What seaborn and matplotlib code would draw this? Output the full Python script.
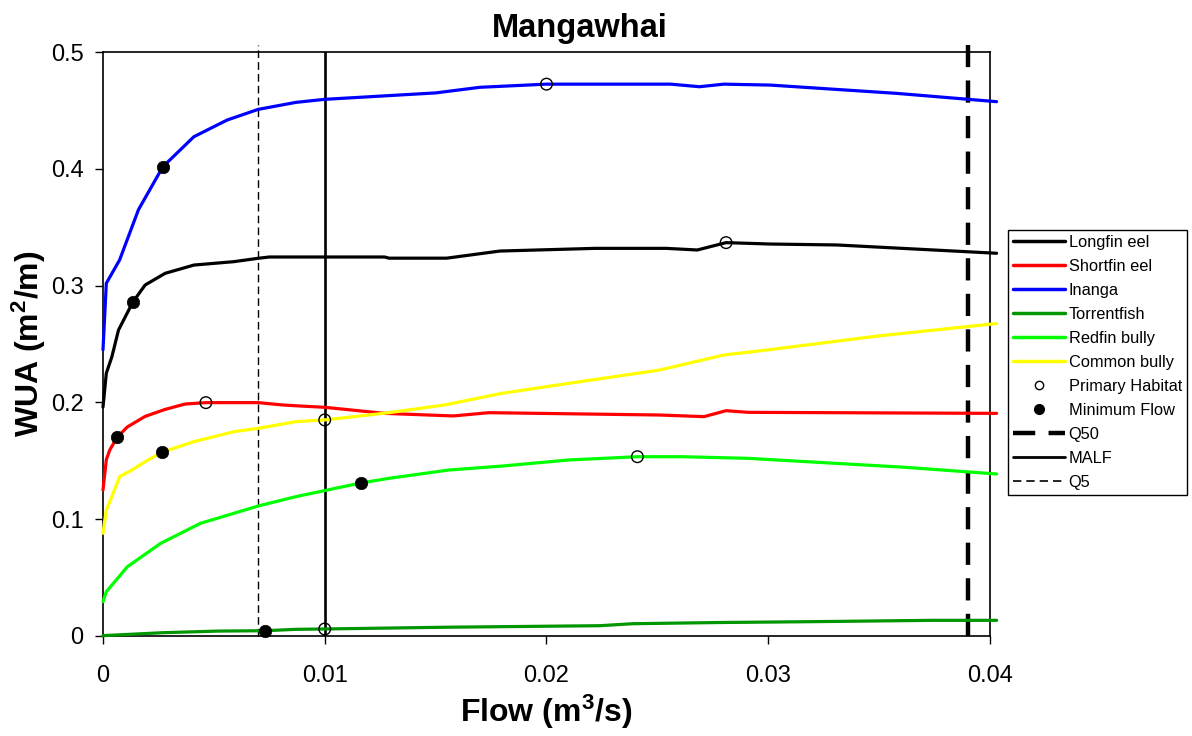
import matplotlib
matplotlib.use("Agg")
import matplotlib.pyplot as plt
from matplotlib.lines import Line2D
import numpy as np
import pandas as pd
import seaborn as sns

# ---- habitat curves: flow (m3/s) vs weighted usable area (m2/m) ----
longfin_x = [0, 0.00015, 0.0004, 0.0007, 0.00135, 0.0019, 0.0028, 0.0041, 0.0059, 0.007, 0.0075,
             0.0127, 0.0129, 0.0155, 0.0179, 0.0222, 0.0254, 0.0268, 0.0281, 0.0301, 0.0331, 0.0403]
longfin_y = [0.196, 0.225, 0.239, 0.262, 0.286, 0.3005, 0.3105, 0.3176, 0.3205, 0.3234, 0.3245,
             0.3245, 0.3235, 0.3235, 0.3296, 0.3319, 0.3319, 0.3305, 0.3368, 0.3356, 0.3348, 0.3277]

shortfin_x = [0, 0.00015, 0.0003, 0.00063, 0.0011, 0.0019, 0.0028, 0.0037, 0.00464, 0.007, 0.0081,
              0.0089, 0.01, 0.0127, 0.0158, 0.0174, 0.0251, 0.0271, 0.0281, 0.0291, 0.0403]
shortfin_y = [0.125, 0.151, 0.159, 0.170, 0.179, 0.188, 0.194, 0.1986, 0.1998, 0.1998, 0.1978,
              0.1969, 0.1958, 0.1906, 0.1884, 0.1912, 0.1892, 0.1878, 0.1929, 0.1915, 0.1906]

inanga_x = [0, 0.00015, 0.00075, 0.0016, 0.0027, 0.0041, 0.0056, 0.007, 0.0087, 0.01, 0.015, 0.017,
            0.02, 0.0256, 0.0269, 0.028, 0.0301, 0.0358, 0.0403]
inanga_y = [0.245, 0.302, 0.322, 0.365, 0.4018, 0.4275, 0.4418, 0.4509, 0.4569, 0.4595, 0.4650, 0.4698,
            0.4725, 0.4725, 0.4703, 0.4725, 0.4717, 0.4646, 0.4575]

torrent_x = [0, 0.0027, 0.0052, 0.0073, 0.0087, 0.01, 0.0155, 0.0224, 0.0239, 0.0277, 0.0322, 0.0374, 0.0403]
torrent_y = [0.0003, 0.0028, 0.0042, 0.0045, 0.0057, 0.006, 0.0075, 0.0088, 0.0105, 0.0115, 0.0123, 0.0134, 0.0134]

redfin_x = [0, 0.00015, 0.0011, 0.0026, 0.0044, 0.0059, 0.007, 0.0087, 0.01, 0.01163, 0.0129, 0.0156,
            0.018, 0.021, 0.0241, 0.0261, 0.0291, 0.0362, 0.0403]
redfin_y = [0.0294, 0.0379, 0.0593, 0.0793, 0.0965, 0.105, 0.1113, 0.1193, 0.1245, 0.131, 0.135, 0.1421,
            0.1455, 0.1507, 0.1535, 0.1535, 0.1521, 0.1444, 0.1387]

common_x = [0, 0.00015, 0.0004, 0.00075, 0.0013, 0.0019, 0.00265, 0.0041, 0.0059, 0.007, 0.0087, 0.01,
            0.0129, 0.0154, 0.018, 0.021, 0.0251, 0.028, 0.030, 0.035, 0.0403]
common_y = [0.0879, 0.1079, 0.1193, 0.1364, 0.1421, 0.1492, 0.1572, 0.1664, 0.1749, 0.1778, 0.1835, 0.185,
            0.1912, 0.1978, 0.2078, 0.2163, 0.2277, 0.2406, 0.245, 0.257, 0.2675]

species = ["Longfin eel", "Shortfin eel", "Inanga", "Torrentfish", "Redfin bully", "Common bully"]
colors = ["#000000", "#FF0000", "#0000FF", "#009600", "#00FF00", "#FFFF00"]
curves_x = [longfin_x, shortfin_x, inanga_x, torrent_x, redfin_x, common_x]
curves_y = [longfin_y, shortfin_y, inanga_y, torrent_y, redfin_y, common_y]

# ---- points of interest on each curve ----
primary_x = [0.0281, 0.00464, 0.02, 0.01, 0.0241, 0.01]
primary_y = [0.3368, 0.1998, 0.4725, 0.006, 0.1535, 0.185]
minflow_x = [0.00135, 0.00063, 0.0027, 0.0073, 0.01163, 0.00265]
minflow_y = [0.286, 0.170, 0.4018, 0.0045, 0.131, 0.1572]

# ---- reference flows ----
q5_flow = 0.007
malf_flow = 0.01
q50_flow = 0.039

sns.set_style("ticks")
plt.rcParams["font.family"] = ["Liberation Sans", "DejaVu Sans"]
plt.rcParams["text.color"] = "black"
plt.rcParams["axes.labelcolor"] = "black"
plt.rcParams["xtick.color"] = "black"
plt.rcParams["ytick.color"] = "black"
plt.rcParams["mathtext.fontset"] = "custom"
plt.rcParams["mathtext.rm"] = "Liberation Sans:bold"
plt.rcParams["mathtext.bf"] = "Liberation Sans:bold"
plt.rcParams["mathtext.it"] = "Liberation Sans:bold"
plt.rcParams["mathtext.default"] = "rm"

fig = plt.figure(figsize=(11.92, 7.36), dpi=100)
ax = fig.add_axes([0.0864, 0.1359, 0.8305 - 0.0864, 0.9293 - 0.1359])

frames = [pd.DataFrame({"flow": cx, "wua": cy, "species": name})
          for name, cx, cy in zip(species, curves_x, curves_y)]
curves = pd.concat(frames, ignore_index=True)

sns.lineplot(data=curves, x="flow", y="wua", hue="species", hue_order=species,
             palette=dict(zip(species, colors)), estimator=None, sort=False,
             linewidth=2.3, legend=False, ax=ax, zorder=3)
for line in ax.lines:
    line.set_clip_on(False)

# reference flow lines
ax.axvline(q5_flow, ymin=0, ymax=1.012, color="black", lw=1.0, dashes=(5.5, 3.0), clip_on=False, zorder=2)
ax.axvline(malf_flow, color="black", lw=1.9, zorder=2)
ax.axvline(q50_flow, ymin=0, ymax=1.012, color="black", lw=3.2, dashes=(5, 3), clip_on=False, zorder=2)

points = pd.DataFrame({"px": primary_x, "py": primary_y})
mins = pd.DataFrame({"mx": minflow_x, "my": minflow_y})
sns.scatterplot(data=points, x="px", y="py", s=70, facecolor="none", edgecolor="black",
                linewidth=1.0, ax=ax, zorder=5, clip_on=False)
sns.scatterplot(data=mins, x="mx", y="my", s=80, color="black", edgecolor="black",
                linewidth=0.5, ax=ax, zorder=5, clip_on=False)

ax.set_xlim(0, 0.04)
ax.set_ylim(0, 0.5)
ax.set_xticks([0, 0.01, 0.02, 0.03, 0.04])
ax.set_xticklabels(["0", "0.01", "0.02", "0.03", "0.04"])
ax.set_yticks([0, 0.1, 0.2, 0.3, 0.4, 0.5])
ax.set_yticklabels(["0", "0.1", "0.2", "0.3", "0.4", "0.5"])
ax.tick_params(axis="both", direction="out", length=6, width=1, labelsize=17, colors="black")
ax.tick_params(axis="x", pad=15)
ax.tick_params(axis="y", pad=8)
for sp in ax.spines.values():
    sp.set_visible(True)
    sp.set_color("black")
    sp.set_linewidth(1.2)

ax.set_xlabel(r"Flow (m$^{3}$/s)", fontsize=23, fontweight="bold", labelpad=4)
ax.set_ylabel(r"WUA (m$^{2}$/m)", fontsize=23, fontweight="bold", labelpad=2)
ax.set_title("Mangawhai", fontsize=23.5, fontweight="bold", pad=11, x=0.538)

handles = [Line2D([], [], color=c, lw=2.5) for c in colors]
handles.append(Line2D([], [], ls="none", marker="o", markersize=6, markerfacecolor="none",
                      markeredgecolor="black", markeredgewidth=1.0))
handles.append(Line2D([], [], ls="none", marker="o", markersize=7, color="black"))
handles.append(Line2D([], [], color="black", lw=3.2, dashes=(5, 3)))
handles.append(Line2D([], [], color="black", lw=2.0))
handles.append(Line2D([], [], color="black", lw=1.2, dashes=(5, 3)))
labels = species + ["Primary Habitat", "Minimum Flow", "Q50", "MALF", "Q5"]

leg = fig.legend(handles, labels, loc="upper left", bbox_to_anchor=(0.8456, 0.6875),
                 bbox_transform=fig.transFigure, borderaxespad=0, fontsize=11.8,
                 handlelength=3.2, handletextpad=0.2, labelspacing=0.55, borderpad=0.3,
                 frameon=True, fancybox=False, framealpha=1, edgecolor="black")
leg.get_frame().set_linewidth(1.0)

fig.savefig("out.png", dpi=100, facecolor="white")
